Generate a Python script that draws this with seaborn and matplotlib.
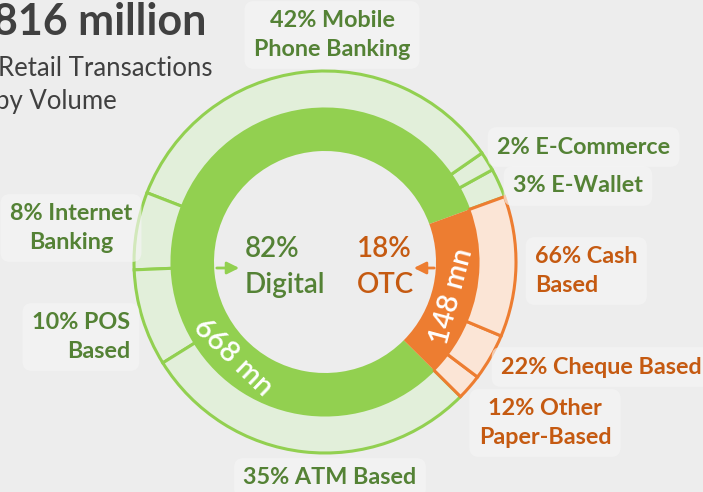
"""Nested donut: retail transactions by volume, digital vs OTC."""

import matplotlib

matplotlib.use("Agg")
import matplotlib.pyplot as plt
import numpy as np
import seaborn as sns

# data
total_label = "816 million"
digital_share = 82
otc_share = 18
digital_mn = 668
otc_mn = 148

# outer ring, counterclockwise from the Digital/OTC boundary
digital_channels = ["E-Wallet", "E-Commerce", "Mobile\nPhone Banking", "Internet\nBanking", "POS\nBased", "ATM Based"]
digital_pct = [3, 2, 42, 8, 10, 35]
otc_channels = ["Other\nPaper-Based", "Cheque Based", "Cash\nBased"]
otc_pct = [12, 22, 66]

sns.set_theme(style="white")
plt.rcParams["font.family"] = ["Lato", "DejaVu Sans"]

BG = "#EDEDED"
GREEN = "#92D050"
GREEN_LIGHT = "#E2EFDA"
GREEN_TEXT = "#548235"
ORANGE = "#ED7D31"
ORANGE_LIGHT = "#FBE5D6"
ORANGE_TEXT = "#C55A11"

W, H = 703, 492
cx, cy = 325, H - 262
r_out, r_mid, r_in = 191, 153, 111
start = 20

fig = plt.figure(figsize=(W / 100, H / 100), dpi=100, facecolor=BG)
ax = fig.add_axes([0, 0, 1, 1])
ax.set_facecolor(BG)

outer_vals = [p * digital_share / 100 for p in digital_pct] + [p * otc_share / 100 for p in otc_pct]
outer_fill = [GREEN_LIGHT] * len(digital_pct) + [ORANGE_LIGHT] * len(otc_pct)
outer_edge = [GREEN] * len(digital_pct) + [ORANGE] * len(otc_pct)

wedges, _ = ax.pie(
    outer_vals, radius=r_out, center=(cx, cy), startangle=start, colors=outer_fill,
    wedgeprops=dict(width=r_out - r_mid, linewidth=2.2),
)
for w, ec in zip(wedges, outer_edge):
    w.set_edgecolor(ec)

ax.pie(
    [digital_share, otc_share], radius=r_mid, center=(cx, cy), startangle=start,
    colors=[GREEN, ORANGE], wedgeprops=dict(width=r_mid - r_in, linewidth=0),
)

ax.set_xlim(0, W)
ax.set_ylim(0, H)
ax.set_axis_off()

halo = dict(boxstyle="round,pad=0.4", fc="#F5F5F5", ec="none", alpha=0.65)

# title block
ax.text(-7, H - 22, total_label, fontsize=31, weight="bold", color="#404040", va="center", ha="left")
ax.text(-2, H - 68, "Retail Transactions", fontsize=18.5, color="#404040", va="center", ha="left")
ax.text(-5, H - 102, "by Volume", fontsize=18.5, color="#404040", va="center", ha="left")

# outer labels
lab = dict(fontsize=16.8, weight="bold", linespacing=1.42, bbox=halo)
names = dict(zip(digital_channels, digital_pct))
ax.text(332, H - 35, f"{names['Mobile' + chr(10) + 'Phone Banking']}% Mobile\nPhone Banking",
        ha="center", va="center", color=GREEN_TEXT, **lab)
ax.text(497, H - 147, f"{names['E-Commerce']}% E-Commerce", ha="left", va="center", color=GREEN_TEXT, **lab)
ax.text(513, H - 186, f"{names['E-Wallet']}% E-Wallet", ha="left", va="center", color=GREEN_TEXT, **lab)
ax.text(71, H - 228, f"{names['Internet' + chr(10) + 'Banking']}% Internet\nBanking",
        ha="center", va="center", color=GREEN_TEXT, **lab)
ax.text(130, H - 337, f"{names['POS' + chr(10) + 'Based']}% POS\nBased",
        ha="right", va="center", multialignment="right", color=GREEN_TEXT, **lab)
ax.text(330, H - 478, f"{names['ATM Based']}% ATM Based", ha="center", va="center", color=GREEN_TEXT, **lab)

onames = dict(zip(otc_channels, otc_pct))
ax.text(535, H - 271, f"{onames['Cash' + chr(10) + 'Based']}% Cash\nBased",
        ha="left", va="center", multialignment="left", color=ORANGE_TEXT, **lab)
ax.text(501, H - 367, f"{onames['Cheque Based']}% Cheque Based", ha="left", va="center", color=ORANGE_TEXT, **lab)
ax.text(545, H - 423, f"{onames['Other' + chr(10) + 'Paper-Based']}% Other\nPaper-Based",
        ha="center", va="center", color=ORANGE_TEXT, **lab)

# centre labels
ax.text(245, H - 267, f"{digital_share}%\nDigital", fontsize=20, weight="semibold", color=GREEN_TEXT,
        ha="left", va="center", multialignment="left", linespacing=1.48)
ax.text(357, H - 267, f"{otc_share}%\nOTC", fontsize=20, weight="semibold", color=ORANGE_TEXT,
        ha="left", va="center", multialignment="left", linespacing=1.48)
ax.annotate("", xy=(242, H - 268), xytext=(cx - r_in, H - 268),
            arrowprops=dict(arrowstyle="-|>", color=GREEN, lw=2, mutation_scale=18))
ax.annotate("", xy=(411, H - 268), xytext=(cx + r_in + 1, H - 268),
            arrowprops=dict(arrowstyle="-|>", color=ORANGE, lw=2, mutation_scale=18))

# ring value labels, written along the ring
r_lab = (r_in + r_mid) / 2
for val, ang in [(digital_mn, 226), (otc_mn, -15)]:
    a = np.deg2rad(ang)
    rot = ang + 90 if np.cos(a) > 0 else ang - 270
    ax.text(cx + r_lab * np.cos(a), cy + r_lab * np.sin(a), f"{val} mn", fontsize=21, weight="semibold",
            color="white", ha="center", va="center", rotation=rot, rotation_mode="anchor")

fig.savefig("out.png", dpi=100, facecolor=BG)
